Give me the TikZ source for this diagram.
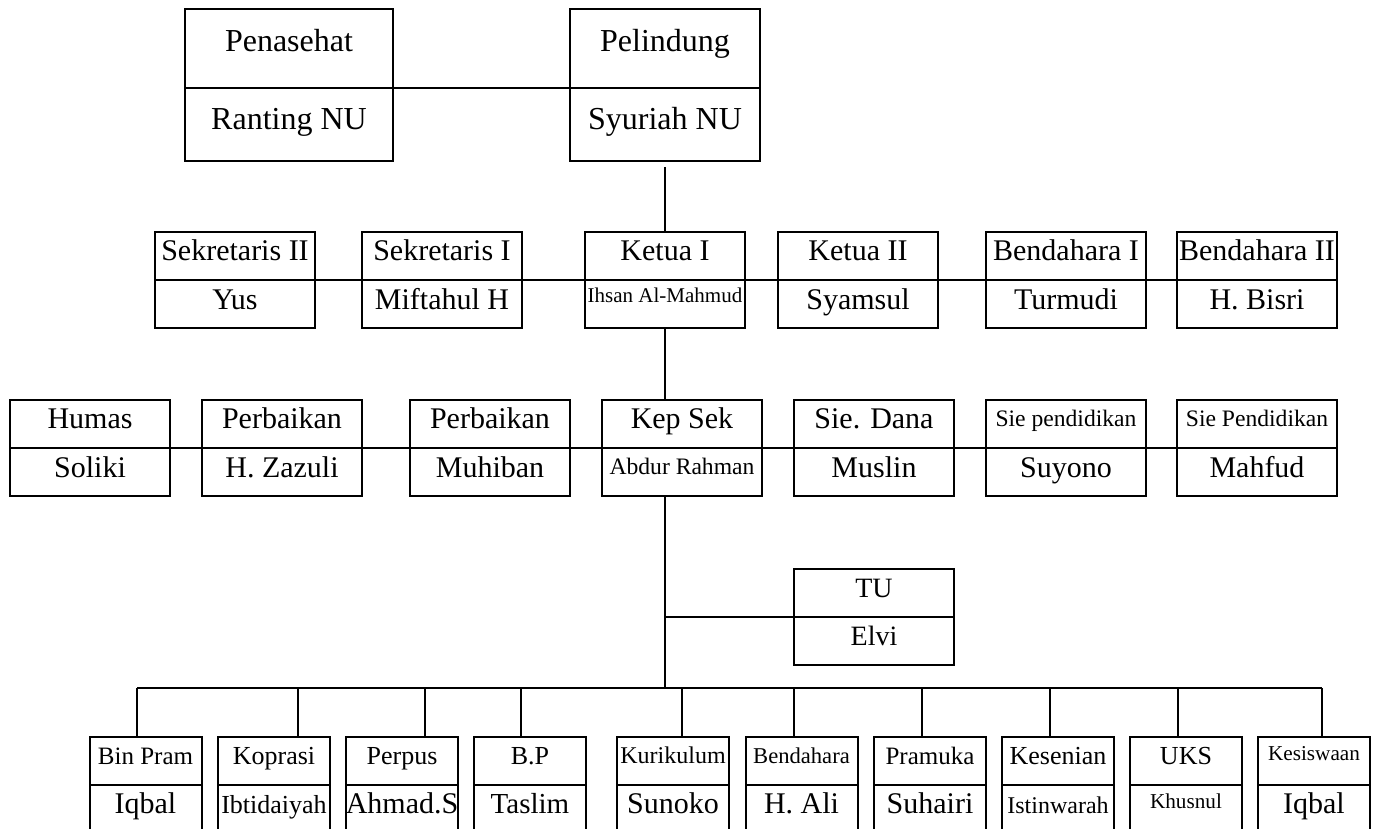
\documentclass[tikz,border=0pt]{standalone}
\usepackage{fontspec}
\setmainfont{Liberation Serif}
\usetikzlibrary{positioning}
\tikzset{
  kotak/.style={draw, line width=1pt, inner sep=0pt, outer sep=0pt, align=center,
    text height=9pt, text depth=4pt},
  puncak/.style={kotak, minimum width=104pt, minimum height=39.5pt, text height=7.5pt,
    font=\fontsize{16}{18}\selectfont},
  judul/.style={kotak, minimum width=80pt, minimum height=24pt, font=\fontsize{15}{17}\selectfont},
  kecil/.style={kotak, minimum width=56pt, minimum height=24pt, text height=7pt,
    font=\fontsize{13}{15}\selectfont},
  kecilnama/.style={kecil, text height=8pt, font=\fontsize{15}{17}\selectfont},
  garis/.style={line width=1pt}
}
\begin{document}
\begin{tikzpicture}[x=0.5pt,y=-0.5pt]
        \useasboundingbox (0,0) rectangle (1373,829);
        \clip (0,0) rectangle (1373,829);
        % Penasehat dan pelindung
        \node[puncak] (penasehat) at (289,48.5) {Penasehat};
        \node[puncak, minimum height=36.5pt, text height=9.5pt, below=0pt of penasehat] (ranting) {Ranting NU};
        \node[puncak, minimum width=95pt] (pelindung) at (665,48.5) {Pelindung};
        \node[puncak, minimum width=95pt, minimum height=36.5pt, text height=9.5pt, below=0pt of pelindung] (syuriah) {Syuriah NU};
        % Ketua, sekretaris, bendahara
        \node[judul] (sek2) at (235,256) {Sekretaris II};
        \node[judul, below=0pt of sek2] (yus) {Yus};
        \node[judul] (sek1) at (442,256) {Sekretaris I};
        \node[judul, below=0pt of sek1] (miftahul) {Miftahul H};
        \node[judul] (ketua1) at (665,256) {Ketua I};
        \node[judul, font=\fontsize{10.5}{12}\selectfont, text height=2pt, below=0pt of ketua1] (ihsan) {Ihsan Al-Mahmud};
        \node[judul] (ketua2) at (858,256) {Ketua II};
        \node[judul, below=0pt of ketua2] (syamsul) {Syamsul};
        \node[judul] (bend1) at (1066,256) {Bendahara I};
        \node[judul, below=0pt of bend1] (turmudi) {Turmudi};
        \node[judul] (bend2) at (1257,256) {Bendahara II};
        \node[judul, below=0pt of bend2] (bisri) {H. Bisri};
        % Kepala sekolah dan seksi
        \node[judul] (humas) at (90,424) {Humas};
        \node[judul, below=0pt of humas] (soliki) {Soliki};
        \node[judul] (perb1) at (282,424) {Perbaikan};
        \node[judul, below=0pt of perb1] (zazuli) {H. Zazuli};
        \node[judul] (perb2) at (490,424) {Perbaikan};
        \node[judul, below=0pt of perb2] (muhiban) {Muhiban};
        \node[judul] (kepsek) at (682,424) {Kep Sek};
        \node[judul, font=\fontsize{11.8}{13}\selectfont, text height=6pt, below=0pt of kepsek] (abdur) {Abdur Rahman};
        \node[judul] (dana) at (874,424) {Sie. Dana};
        \node[judul, below=0pt of dana] (muslin) {Muslin};
        \node[judul, font=\fontsize{11.8}{13}\selectfont, text height=6pt] (siep1) at (1066,424) {Sie pendidikan};
        \node[judul, below=0pt of siep1] (suyono) {Suyono};
        \node[judul, font=\fontsize{11.8}{13}\selectfont, text height=6pt] (siep2) at (1257,424) {Sie Pendidikan};
        \node[judul, below=0pt of siep2] (mahfud) {Mahfud};
        % Tata usaha
        \node[judul, font=\fontsize{14}{16}\selectfont, text height=8pt] (tu) at (874,593) {TU};
        \node[judul, font=\fontsize{14}{16}\selectfont, text height=8pt, below=0pt of tu] (elvi) {Elvi};
        % Baris bawah
        \node[kecil, font=\fontsize{12.5}{14}\selectfont] (binpram) at (145.5,761) {Bin Pram};
        \node[kecilnama, below=0pt of binpram] (iqbal1) {Iqbal};
        \node[kecil] (koprasi) at (274,761) {Koprasi};
        \node[kecil, text height=8pt, below=0pt of koprasi] (ibtid) {Ibtidaiyah};
        \node[kecil] (perpus) at (402,761) {Perpus};
        \node[kecilnama, below=0pt of perpus] (ahmad) {Ahmad.S};
        \node[kecil] (bp) at (530,761) {B.P};
        \node[kecilnama, font=\fontsize{14.5}{16}\selectfont, below=0pt of bp] (taslim) {Taslim};
        \node[kecil, font=\fontsize{12}{14}\selectfont, text height=6pt] (kurikulum) at (673,761) {Kurikulum};
        \node[kecilnama, below=0pt of kurikulum] (sunoko) {Sunoko};
        \node[kecil, font=\fontsize{11.3}{13}\selectfont, text height=6pt] (bendahara) at (801.5,761) {Bendahara};
        \node[kecilnama, below=0pt of bendahara] (ali) {H. Ali};
        \node[kecil, font=\fontsize{12.5}{14}\selectfont] (pramuka) at (930,761) {Pramuka};
        \node[kecilnama, below=0pt of pramuka] (suhairi) {Suhairi};
        \node[kecil] (kesenian) at (1058,761) {Kesenian};
        \node[kecil, font=\fontsize{12}{14}\selectfont, text height=8pt, below=0pt of kesenian] (istin) {Istinwarah};
        \node[kecil] (uks) at (1186,761) {UKS};
        \node[kecil, font=\fontsize{10.6}{12}\selectfont, text height=3pt, below=0pt of uks] (khusnul) {Khusnul};
        \node[kecil, font=\fontsize{10.6}{12}\selectfont, text height=3pt] (kesiswaan) at (1314,761) {Kesiswaan};
        \node[kecilnama, below=0pt of kesiswaan] (iqbal2) {Iqbal};
        % Garis penghubung
        \coordinate (bus) at (665,688);
        \draw[garis] (penasehat.south east) -- (pelindung.south west);
        \draw[garis, shorten <=3pt] (syuriah.south) -- (ketua1.north);
        \draw[garis] (sek2.south east) -- (sek1.south west);
        \draw[garis] (sek1.south east) -- (ketua1.south west);
        \draw[garis] (ketua1.south east) -- (ketua2.south west);
        \draw[garis] (ketua2.south east) -- (bend1.south west);
        \draw[garis] (bend1.south east) -- (bend2.south west);
        \draw[garis] (ihsan.south) -- (ihsan.south |- kepsek.north);
        \draw[garis] (humas.south east) -- (perb1.south west);
        \draw[garis] (perb1.south east) -- (perb2.south west);
        \draw[garis] (perb2.south east) -- (kepsek.south west);
        \draw[garis] (kepsek.south east) -- (dana.south west);
        \draw[garis] (dana.south east) -- (siep1.south west);
        \draw[garis] (siep1.south east) -- (siep2.south west);
        \draw[garis] (ihsan.south |- abdur.south) -- (bus);
        \draw[garis] (tu.south west) -- (tu.south west -| bus);
        \draw[garis] ([xshift=-4.25pt]binpram.north |- bus) -- ([xshift=4pt]kesiswaan.north |- bus);
        \foreach \n/\dx in {binpram/-4.25, koprasi/12, perpus/11.5, bp/-4.5, kurikulum/4.5,
            bendahara/-3.75, pramuka/-4, kesenian/-4, uks/-4, kesiswaan/4}
          \draw[garis] ([xshift=\dx pt]\n.north) -- ([xshift=\dx pt]\n.north |- bus);
\end{tikzpicture}
\end{document}
